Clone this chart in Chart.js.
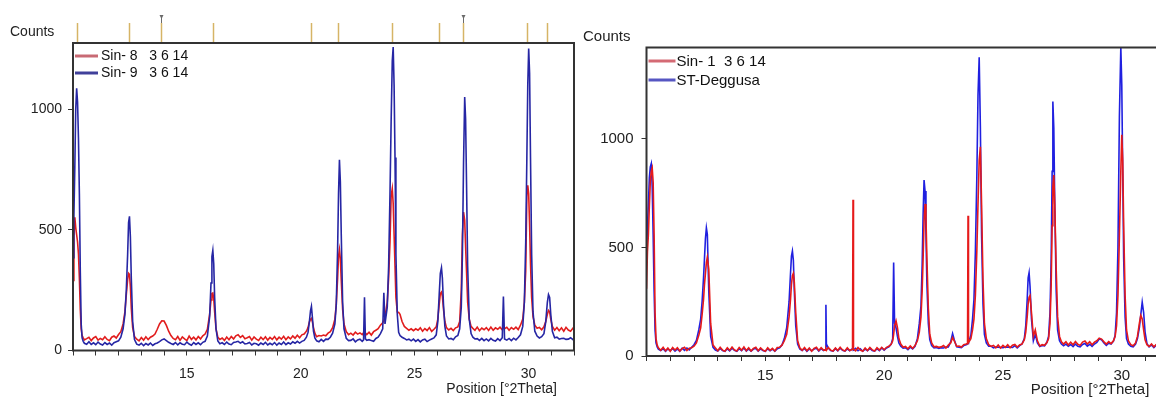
<!DOCTYPE html>
<html><head><meta charset="utf-8">
<script src="https://cdn.jsdelivr.net/npm/chart.js@4.4.0/dist/chart.umd.min.js"></script>
<style>
html,body{margin:0;padding:0;background:#fff;overflow:hidden;width:1156px;height:399px;}
#wrap{position:relative;width:1156px;height:399px;overflow:hidden;background:#fff;}
#c1{position:absolute;left:0;top:0;width:580px;height:399px;}
#c2{position:absolute;left:580px;top:0;width:600px;height:399px;}
</style></head><body>
<div id="wrap"><canvas id="c1" width="580" height="399"></canvas><canvas id="c2" width="600" height="399"></canvas></div>
<script>
// ---------- Texts ----------
const yTitle = 'Counts';
const xTitle = 'Position [°2Theta]';
const leftLabels = ['Sin- 8   3 6 14', 'Sin- 9   3 6 14'];
const rightLabels = ['Sin- 1  3 6 14', 'ST-Deggusa'];
const xTickLabels = [15, 20, 25, 30];
const yTicks = [0, 500, 1000];

// ---------- Left panel data ----------
const leftTheta = [
10.00,10.04,10.08,10.12,10.16,10.20,10.24,10.28,10.32,10.36,
10.40,10.45,10.5,10.6,10.7,10.8,10.9,11.0,11.1,11.2,
11.3,11.4,11.5,11.6,11.7,11.8,11.9,12.0,12.1,12.2,
12.28,12.34,12.40,12.44,12.48,12.52,12.56,12.62,12.70,12.80,
12.9,13.0,13.1,13.2,13.3,13.4,13.5,13.6,13.7,13.8,
13.9,14.0,14.1,14.2,14.3,14.4,14.5,14.6,14.7,14.8,
14.9,15.0,15.1,15.2,15.3,15.4,15.5,15.6,15.7,15.8,
15.9,16.0,16.06,16.1,16.14,16.18,16.22,16.28,16.36,16.45,
16.55,16.65,16.75,16.85,16.95,17.05,17.15,17.25,17.35,17.45,
17.55,17.65,17.75,17.85,17.95,18.05,18.15,18.25,18.35,18.45,
18.55,18.65,18.75,18.85,18.95,19.05,19.15,19.25,19.35,19.45,
19.55,19.65,19.75,19.85,19.95,20.05,20.15,20.25,20.32,20.38,
20.43,20.47,20.51,20.56,20.62,20.7,20.8,20.9,21.0,21.1,
21.2,21.3,21.4,21.5,21.56,21.62,21.66,21.70,21.74,21.78,
21.84,21.9,22.0,22.1,22.2,22.3,22.4,22.5,22.6,22.7,
22.76,22.80,22.84,22.9,23.0,23.1,23.2,23.3,23.4,23.5,
23.6,23.65,23.7,23.8,23.86,23.92,23.97,24.02,24.06,24.10,
24.14,24.18,24.24,24.3,24.36,24.45,24.55,24.65,24.75,24.85,
24.95,25.05,25.15,25.25,25.35,25.45,25.55,25.65,25.75,25.85,
25.95,26.02,26.08,26.13,26.18,26.22,26.27,26.33,26.4,26.5,
26.6,26.7,26.8,26.9,26.98,27.05,27.1,27.15,27.2,27.24,
27.28,27.33,27.4,27.48,27.56,27.65,27.75,27.85,27.95,28.05,
28.15,28.25,28.35,28.45,28.55,28.65,28.75,28.85,28.9,28.95,
29.05,29.15,29.25,29.35,29.45,29.55,29.65,29.75,29.82,29.88,
29.93,29.97,30.01,30.05,30.09,30.14,30.2,30.28,30.38,30.48,
30.58,30.68,30.76,30.83,30.88,30.93,30.98,31.05,31.15,31.25,
31.35,31.45,31.55,31.65,31.75,31.85,31.95,32.0
];
const sin8 = [
290,470,552,510,480,450,400,300,170,90,
62,52,44,49,55,41,52,58,43,50,
45,57,46,41,55,60,52,66,78,110,
160,230,295,320,316,265,175,95,58,47,
40,54,43,57,45,55,60,68,88,110,
123,122,104,80,62,50,45,58,42,56,
48,41,60,46,55,44,58,48,61,68,
88,150,210,236,238,215,160,90,55,46,
52,42,56,45,58,48,61,65,54,62,
49,53,58,43,56,47,42,55,45,57,
43,54,46,58,44,55,47,59,45,56,
48,60,51,63,53,65,68,80,95,118,
130,133,120,95,72,57,62,60,64,61,
72,78,95,130,190,300,390,418,380,290,
170,110,78,66,72,64,76,68,73,66,
74,78,72,66,76,64,78,84,90,105,
115,125,140,200,300,450,640,671,610,480,
350,220,160,158,150,120,100,92,84,90,
82,90,84,94,80,91,83,95,79,88,
98,130,190,236,242,225,170,120,95,85,
92,83,94,98,120,250,480,574,540,430,
330,200,130,100,92,84,97,82,93,86,
95,83,97,84,94,88,97,86,96,90,
96,84,95,88,97,87,105,130,200,330,
640,685,650,520,360,220,140,105,92,96,
86,98,120,150,166,160,130,100,84,95,
82,94,80,96,85,80,92,86
];
const sin9 = [
385,560,760,1000,1087,1030,880,650,330,110,
52,38,30,26,36,25,32,24,35,27,
23,33,25,31,22,32,36,40,55,90,
150,250,400,530,556,470,300,120,45,26,
22,30,20,29,23,31,21,28,31,37,
44,48,41,34,29,25,33,23,32,26,
24,35,27,22,33,25,32,24,34,38,
60,140,280,390,415,360,220,90,40,28,
32,25,35,27,24,33,35,38,31,36,
27,29,33,23,30,28,22,31,25,34,
23,30,24,33,22,31,25,35,24,32,
27,36,30,38,31,38,42,55,75,120,
165,183,140,80,52,40,36,46,38,47,
46,55,72,110,190,420,650,791,700,480,
200,90,50,41,42,48,36,44,47,38,
44,221,48,42,45,41,38,50,55,70,
90,239,110,180,350,650,950,1200,1258,1100,
800,400,150,75,62,55,50,44,47,40,
47,38,45,36,44,47,37,43,48,52,
65,120,230,320,343,300,190,100,60,48,
50,45,57,62,90,180,400,780,1051,960,
700,350,130,70,55,48,49,42,50,41,
48,40,50,42,39,49,41,53,224,48,
43,50,41,51,44,54,65,100,200,450,
800,1100,1252,1150,800,400,160,80,60,52,
57,70,120,200,232,220,150,80,53,55,
47,50,51,46,47,53,45,52
];
// reference-pattern marks above the left panel (°2Theta)
const refPositions = [10.17,12.47,13.87,16.14,20.44,21.65,24.0,26.09,27.12,29.95,30.83];
const pinnedRefs = [13.87,27.12];

// ---------- Right panel data ----------
const rightTheta = [
10.00,10.04,10.08,10.12,10.16,10.20,10.24,10.28,10.32,10.36,
10.40,10.45,10.5,10.6,10.7,10.8,10.9,11.0,11.1,11.2,
11.3,11.4,11.5,11.6,11.7,11.8,11.9,12.0,12.1,12.2,
12.28,12.34,12.40,12.44,12.48,12.52,12.56,12.62,12.70,12.80,
12.9,13.0,13.1,13.2,13.3,13.4,13.5,13.6,13.7,13.8,
13.9,14.0,14.1,14.2,14.3,14.4,14.5,14.6,14.7,14.8,
14.9,15.0,15.1,15.2,15.3,15.4,15.5,15.6,15.7,15.8,
15.9,16.0,16.06,16.1,16.14,16.18,16.22,16.28,16.36,16.45,
16.55,16.65,16.75,16.85,16.95,17.05,17.15,17.25,17.35,17.45,
17.53,17.55,17.57,17.65,17.75,17.85,17.95,18.05,18.15,18.25,
18.35,18.45,18.55,18.67,18.69,18.71,18.8,18.9,19.0,19.1,
19.2,19.3,19.4,19.5,19.6,19.7,19.8,19.9,20.0,20.1,
20.2,20.3,20.36,20.40,20.44,20.5,20.56,20.62,20.7,20.8,
20.9,21.0,21.1,21.2,21.3,21.4,21.48,21.55,21.6,21.64,
21.68,21.72,21.76,21.8,21.86,21.92,22.0,22.1,22.2,22.3,
22.4,22.5,22.6,22.7,22.8,22.88,22.95,23.05,23.15,23.25,
23.35,23.45,23.51,23.53,23.55,23.65,23.72,23.78,23.84,23.9,
23.95,24.0,24.05,24.1,24.16,24.22,24.3,24.4,24.5,24.6,
24.7,24.8,24.9,25.0,25.1,25.2,25.3,25.4,25.5,25.6,
25.7,25.8,25.9,25.96,26.02,26.06,26.1,26.14,26.2,26.28,
26.36,26.45,26.55,26.65,26.75,26.85,26.92,26.98,27.03,27.07,
27.1,27.14,27.18,27.24,27.3,27.38,27.46,27.55,27.65,27.75,
27.85,27.95,28.05,28.15,28.25,28.35,28.45,28.55,28.65,28.75,
28.85,28.95,29.05,29.15,29.25,29.35,29.45,29.55,29.65,29.72,
29.78,29.84,29.9,29.96,30.0,30.04,30.08,30.14,30.2,30.28,
30.38,30.48,30.58,30.66,30.74,30.8,30.86,30.92,30.98,31.06,
31.15,31.25,31.35,31.45,31.55,31.65,31.75,31.85,31.95,32.0
];
const sin1 = [
310,480,560,690,800,850,866,800,560,200,
80,50,38,26,40,24,37,22,39,27,
38,23,34,40,25,36,38,45,60,95,
130,190,260,330,380,430,455,400,150,50,
37,24,40,27,22,38,26,41,28,23,
39,27,42,25,38,23,35,40,24,37,
27,22,38,26,35,23,39,40,50,70,
100,180,260,330,370,381,340,200,70,38,
26,39,24,37,22,35,40,25,38,27,
27,32,26,39,27,23,37,25,40,28,
23,38,25,30,719,32,24,39,27,22,
37,25,39,28,23,38,27,40,29,40,
45,55,70,100,140,162,130,80,55,40,
44,33,46,35,48,70,110,180,300,450,
620,700,640,450,220,100,60,42,44,40,
42,48,37,50,60,85,70,45,46,41,
52,55,58,645,62,80,120,170,280,480,
700,900,963,700,350,150,80,52,44,49,
38,51,37,49,40,52,38,50,53,41,
51,55,75,110,180,240,270,278,200,90,
120,70,46,52,49,62,80,150,330,600,
780,833,700,400,180,90,65,55,66,51,
64,52,67,54,49,64,69,55,66,52,
64,70,82,78,65,55,66,57,70,90,
140,280,550,850,1018,900,600,280,120,70,
52,47,60,90,150,187,170,120,75,52,
44,55,42,53,44,56,43,52,47,51
];
const stDeggusa = [
470,600,700,820,870,885,780,560,300,120,
60,42,31,25,34,22,33,24,35,23,
33,22,36,26,37,28,40,52,72,120,
170,250,360,450,540,590,560,300,90,40,
27,23,35,25,21,33,24,36,26,22,
34,25,37,23,33,22,32,35,23,33,
25,21,33,24,32,22,33,38,50,80,
130,250,380,460,483,440,300,140,55,32,
25,35,22,33,24,32,36,23,34,25,
30,236,55,37,25,22,34,24,36,26,
23,33,24,34,29,28,35,24,33,22,
32,24,35,25,22,34,25,37,27,37,
42,55,80,430,150,130,90,60,45,36,
38,29,41,33,45,80,150,230,420,650,
810,760,560,330,150,75,48,37,39,35,
38,37,41,42,65,103,75,42,41,39,
48,52,56,58,62,95,170,260,480,820,
1200,1375,1050,560,240,100,60,45,45,37,
41,40,39,38,42,41,40,39,48,37,
48,55,80,140,260,360,384,320,170,70,
100,60,44,48,47,63,90,200,450,850,
1171,1050,700,300,120,70,55,47,55,45,
53,43,55,45,42,53,58,45,54,44,
55,62,78,75,60,49,59,55,68,95,
200,500,1100,1421,1250,850,450,180,80,55,
45,42,55,80,130,190,248,200,110,57,
42,51,39,50,41,52,40,49,45,48
];

// ---------- helpers ----------
const FONT = '"Liberation Sans", Arial, Helvetica, sans-serif';
Chart.defaults.font.family = FONT;
Chart.defaults.color = '#222';
const pts = (xs, ys) => xs.map((t, i) => ({x: t, y: ys[i]}));

const decoPlugin = {
  id: 'deco',
  afterDraw(chart, args, o) {
    const {ctx, chartArea: a} = chart;
    const xs = chart.scales.x;
    ctx.save();
    // reference marks
    ctx.lineWidth = 1.5;
    (o.refs || []).forEach(v => {
      const px = Math.round(xs.getPixelForValue(v)) + 0.5;
      ctx.strokeStyle = '#d6b466';
      ctx.beginPath(); ctx.moveTo(px, o.refTop); ctx.lineTo(px, a.top); ctx.stroke();
    });
    (o.pins || []).forEach(v => {
      const px = Math.round(xs.getPixelForValue(v)) + 0.5;
      ctx.strokeStyle = '#6a6a6a'; ctx.fillStyle = '#6a6a6a'; ctx.lineWidth = 1;
      ctx.beginPath(); ctx.moveTo(px - 2, 15); ctx.lineTo(px + 2, 15); ctx.lineTo(px, 19); ctx.closePath(); ctx.fill();
      ctx.beginPath(); ctx.moveTo(px, 18); ctx.lineTo(px, 23); ctx.stroke();
    });
    // frame
    ctx.strokeStyle = '#333'; ctx.lineWidth = 2;
    ctx.strokeRect(a.left, a.top, a.right - a.left, a.bottom - a.top);
    // titles
    ctx.fillStyle = '#222';
    ctx.font = o.fontSize + 'px ' + FONT;
    ctx.textBaseline = 'middle';
    ctx.textAlign = 'left';
    ctx.fillText(yTitle, o.yTitleX, o.yTitleY);
    ctx.textAlign = 'right';
    ctx.fillText(xTitle, a.right - o.xTitleInset, o.xTitleY);
    // legend
    chart.data.datasets.forEach((ds, i) => {
      const y = a.top + o.legTop + i * o.legGap;
      ctx.strokeStyle = ds.legendColor; ctx.lineWidth = 3;
      ctx.beginPath(); ctx.moveTo(a.left + o.legX0, y); ctx.lineTo(a.left + o.legX1, y); ctx.stroke();
      ctx.fillStyle = '#111'; ctx.textAlign = 'left';
      ctx.fillText(ds.label, a.left + o.legTextX, y + 0.5);
    });
    ctx.restore();
  }
};

function makeChart(canvasId, cfg) {
  return new Chart(document.getElementById(canvasId), {
    type: 'line',
    data: {datasets: cfg.datasets},
    options: {
      responsive: false, animation: false, devicePixelRatio: 1,
      layout: {padding: cfg.padding},
      elements: {point: {radius: 0}, line: {tension: 0, borderWidth: 1.6}},
      plugins: {legend: {display: false}, tooltip: {enabled: false}, deco: cfg.deco},
      scales: {
        x: {
          type: 'linear', min: 10, max: 32,
          afterFit: s => { s.height = cfg.xAxisH; s.paddingLeft = 0; s.paddingRight = 0; },
          border: {display: false},
          grid: {drawOnChartArea: false, drawTicks: true, tickLength: 5, tickColor: '#333', tickWidth: 1},
          ticks: {stepSize: 1, autoSkip: false, maxRotation: 0, padding: cfg.xPad,
            font: {size: cfg.fontSize}, color: '#222',
            callback: v => xTickLabels.includes(Math.round(v * 1000) / 1000) ? String(v) : ''}
        },
        y: {
          type: 'linear', min: 0, max: cfg.yMax,
          afterFit: s => { s.width = cfg.yAxisW; s.paddingTop = 0; s.paddingBottom = 0; },
          afterBuildTicks: s => { s.ticks = yTicks.map(v => ({value: v})); },
          border: {display: false},
          grid: {drawOnChartArea: false, drawTicks: true, tickLength: 5, tickColor: '#333', tickWidth: 1},
          ticks: {padding: cfg.yPad, font: {size: cfg.fontSize}, color: '#222',
            callback: v => String(v)}
        }
      }
    },
    plugins: [decoPlugin]
  });
}

makeChart('c1', {
  datasets: [
    {label: leftLabels[0], data: pts(leftTheta, sin8), borderColor: '#e11d1d', legendColor: '#c86a74', order: 1},
    {label: leftLabels[1], data: pts(leftTheta, sin9), borderColor: '#2626a4', legendColor: '#40409a', order: 0}
  ],
  padding: {left: 0, top: 43, right: 6, bottom: 0},
  xAxisH: 48.5, yAxisW: 73, yMax: 1275, fontSize: 14, xPad: 10, yPad: 6,
  deco: {fontSize: 14, refs: refPositions, pins: pinnedRefs, refTop: 23,
    yTitleX: 10, yTitleY: 32, xTitleInset: 17, xTitleY: 389,
    legTop: 13, legGap: 17, legX0: 2, legX1: 25, legTextX: 28}
});

makeChart('c2', {
  datasets: [
    {label: rightLabels[0], data: pts(rightTheta, sin1), borderColor: '#e61a1a', legendColor: '#d46a74', order: 0},
    {label: rightLabels[1], data: pts(rightTheta, stDeggusa), borderColor: '#2020e0', legendColor: '#5656c2', order: 1}
  ],
  padding: {left: 0, top: 47.5, right: 10.7, bottom: 0},
  xAxisH: 43, yAxisW: 66.5, yMax: 1420, fontSize: 15, xPad: 6, yPad: 8,
  deco: {fontSize: 15, refs: [], pins: [], refTop: 23,
    yTitleX: 3, yTitleY: 37, xTitleInset: 20, xTitleY: 390,
    legTop: 13.5, legGap: 19, legX0: 2, legX1: 29, legTextX: 30}
});
</script>
</body></html>
